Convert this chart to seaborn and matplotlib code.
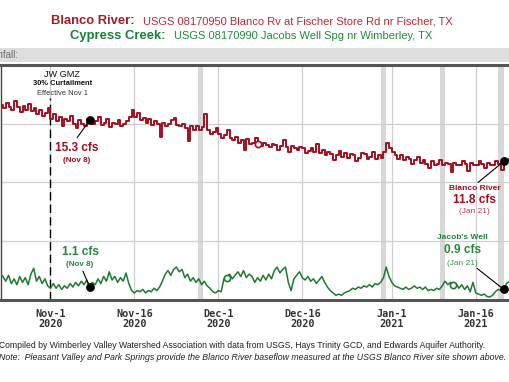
import numpy as np
import pandas as pd
import matplotlib.pyplot as plt
from matplotlib.patches import Rectangle
import seaborn as sns

# === Data (12-hour readings, starting Oct 23 2020) ===
start_date = "2020-10-23"
blanco_cfs = [
    16.6, 16.3, 16.8, 16.4, 16.2, 16.9, 16.4, 16.0, 16.5, 16.2,
    16.7, 16.1, 16.3, 15.8, 16.2, 15.7, 15.9, 16.3, 15.4, 15.8,
    15.2, 15.6, 14.8, 15.4, 15.2, 15.7, 15.0, 14.6, 15.3, 15.0,
    14.8, 15.4, 15.3, 15.0, 15.2, 15.6, 14.9, 15.1, 15.4, 14.7,
    15.1, 15.0, 15.3, 14.8, 15.0, 15.2, 15.6, 16.2, 15.6, 15.9,
    15.3, 15.5, 15.1, 15.4, 14.9, 15.2, 15.0, 13.9, 15.1, 14.8,
    15.0, 15.3, 15.5, 14.9, 14.8, 15.0, 14.6, 13.5, 14.8, 14.5,
    14.8, 14.5, 14.7, 15.8, 14.5, 14.1, 14.3, 14.6, 14.1, 13.8,
    14.0, 14.5, 13.8, 13.6, 13.9, 13.4, 13.6, 12.8, 13.7, 13.3,
    13.4, 13.8, 13.3, 13.1, 13.4, 13.2, 13.0, 13.3, 13.2, 12.8,
    13.1, 13.6, 13.0, 12.6, 13.1, 12.9, 12.8, 13.0, 12.9, 12.5,
    12.7, 12.9, 12.6, 13.3, 12.5, 12.8, 12.3, 12.6, 12.4, 11.9,
    12.3, 12.7, 12.2, 12.5, 12.1, 12.4, 12.3, 11.8, 12.1, 12.5,
    12.4, 12.0, 12.2, 12.6, 12.0, 12.3, 12.1, 12.6, 13.4, 12.9,
    12.6, 12.3, 12.0, 12.3, 11.9, 12.2, 12.0, 11.6, 11.9, 12.2,
    11.7, 11.9, 11.6, 11.2, 11.8, 11.5, 11.6, 11.9, 11.5, 11.7,
    11.6, 10.9, 11.7, 11.5, 11.5, 11.8, 11.6, 11.0, 11.7, 11.5,
    11.5, 11.8, 11.6, 11.2, 11.7, 11.5, 11.5, 11.8, 11.6, 11.1,
    11.8, 11.9, 12.0, 11.9,
]
jacobs_cfs = [
    2.3, 2.0, 1.6, 2.1, 1.4, 1.8, 1.3, 2.0, 1.5, 1.9,
    1.3, 2.2, 2.7, 1.6, 2.0, 1.4, 1.8, 1.2, 1.0, 1.4,
    1.0, 1.3, 0.9, 1.2, 1.0, 1.4, 1.1, 1.5, 1.2, 1.6,
    1.3, 1.7, 1.1, 1.5, 1.3, 1.8, 1.4, 2.0, 1.6, 2.4,
    1.7, 2.0, 1.5, 1.9, 1.6, 2.3, 1.4, 0.8, 0.6, 0.8,
    0.7, 0.9, 0.6, 0.8, 0.7, 1.0, 0.8, 1.1, 1.6, 2.2,
    2.5, 2.1, 2.6, 2.8, 2.4, 2.6, 1.9, 2.2, 1.6, 1.9,
    1.5, 1.8, 1.3, 1.6, 1.2, 1.0, 0.7, 0.6, 0.8, 0.7,
    1.8, 1.9, 2.2, 1.8, 2.1, 2.4, 2.0, 2.5, 1.9, 2.2,
    2.0, 1.5, 1.9, 1.6, 2.1, 1.7, 2.2, 1.8, 2.5, 2.8,
    2.3, 2.6, 2.8, 1.5, 0.8, 1.8, 2.1, 2.4, 1.9, 1.7,
    2.0, 1.6, 1.8, 1.4, 1.7, 2.0, 1.5, 1.1, 0.8, 0.6,
    0.4, 0.5, 0.4, 0.6, 0.7, 0.8, 1.0, 0.9, 1.1, 1.0,
    1.2, 1.1, 1.3, 1.1, 1.4, 1.3, 1.5, 1.9, 2.8, 2.0,
    1.5, 1.2, 1.1, 1.0, 0.9, 1.1, 0.9, 1.0, 1.2, 1.0,
    1.1, 0.9, 1.1, 0.8, 0.9, 0.8, 1.0, 0.9, 1.2, 1.6,
    1.3, 1.5, 1.3, 1.4, 1.0, 1.3, 0.9, 1.2, 0.7, 1.5,
    0.6, 0.5, 0.4, 0.5, 0.3, 0.25, 0.4, 0.7, 0.9, 0.8,
    0.9, 1.4, 1.6, 1.5,
]

tick_dates = ["2020-11-01", "2020-11-16", "2020-12-01", "2020-12-16", "2021-01-01", "2021-01-16"]
tick_labels = ["Nov-1\n2020", "Nov-16\n2020", "Dec-1\n2020", "Dec-16\n2020", "Jan-1\n2021", "Jan-16\n2021"]

rain_dates = ["2020-11-27 18:00", "2020-12-30 14:00", "2021-01-10 02:00", "2021-01-20 12:00"]
rain_labels = ['1.0"', '1.0"', '1.0"', '.25"']

callout_dates = ["2020-11-08 00:00", "2021-01-21 00:00"]
blanco_marks = ["2020-12-08 00:00"]
jacobs_marks = ["2020-12-02 12:00", "2021-01-12 00:00"]
gmz_date = "2020-11-01"

dates = pd.date_range(start_date, periods=len(blanco_cfs), freq="12h")
df = pd.DataFrame({"date": dates, "blanco": blanco_cfs, "jacobs": jacobs_cfs})

RED = "#a50e1e"
GREEN = "#1d7a30"

# === Style ===
sns.set_theme(style="white")
plt.rcParams["font.family"] = ["Liberation Sans", "DejaVu Sans"]

fig = plt.figure(figsize=(5.1, 3.82), dpi=100)
ax = fig.add_axes([0.001, 0.2147, 1.0, 0.6152])

# rainfall days as gray bands
for d in rain_dates:
    c = pd.Timestamp(d)
    ax.axvspan(c - pd.Timedelta(hours=11), c + pd.Timedelta(hours=11), color="#d8d8d8", lw=0, zorder=0)

sns.lineplot(data=df, x="date", y="blanco", ax=ax, color=RED, lw=1.4, drawstyle="steps-post", zorder=3)
sns.lineplot(data=df, x="date", y="jacobs", ax=ax, color=GREEN, lw=1.1, zorder=3)

# open circle markers
bm = df[df["date"].isin([pd.Timestamp(d) for d in blanco_marks])]
jm = df[df["date"].isin([pd.Timestamp(d) for d in jacobs_marks])]
ax.plot(bm["date"], bm["blanco"], "o", ms=4.5, mfc="white", mec=RED, mew=1.2, zorder=4)
ax.plot(jm["date"], jm["jacobs"], "o", ms=4.5, mfc="white", mec=GREEN, mew=1.2, zorder=4)

# callout dots
co = df[df["date"].isin([pd.Timestamp(d) for d in callout_dates])]
ax.scatter(co["date"], co["blanco"], s=28, color="black", zorder=5)
ax.scatter(co["date"], co["jacobs"], s=28, color="black", zorder=5)

# === Axes ===
ax.set_xlim(pd.Timestamp("2020-10-23 01:40"), pd.Timestamp("2021-01-22 05:00"))
ax.set_ylim(0, 20)
ax.set_yticks([5, 10, 15])
ax.set_xticks([pd.Timestamp(d) for d in tick_dates])
ax.set_xticklabels(tick_labels, fontfamily="DejaVu Sans Mono", fontweight="bold",
                   fontsize=7.3, color="#333333", linespacing=1.05)
ax.tick_params(axis="x", length=0, pad=6.5)
ax.tick_params(axis="y", left=False, labelleft=False)
ax.grid(True, color="#cfcfcf", lw=0.9)
ax.set_xlabel("")
ax.set_ylabel("")
ax.spines["right"].set_visible(False)
ax.spines["top"].set_color("#555555")
ax.spines["top"].set_linewidth(2.2)
ax.spines["bottom"].set_color("#555555")
ax.spines["bottom"].set_linewidth(2.2)
ax.spines["left"].set_color("#444444")
ax.spines["left"].set_linewidth(1.0)

# === GMZ marker ===
g = pd.Timestamp(gmz_date)
ax.vlines(g, 0, 17.2, colors="black", linestyles=(0, (6, 3)), lw=1.0, zorder=2)
gx = g + pd.Timedelta(hours=50)
ax.text(gx, 19.2, "JW GMZ", ha="center", va="center", fontsize=6.6, color="#111111")
ax.text(gx, 18.4, "30% Curtailment", ha="center", va="center", fontsize=5.4, fontweight="bold", color="#111111")
ax.text(gx, 17.6, "Effective Nov 1", ha="center", va="center", fontsize=5.4, color="#333333")

# === Callouts ===
line_kw = dict(arrowstyle="-", lw=0.8, color="black", shrinkA=0, shrinkB=2)
t = pd.Timestamp
ax.text(t("2020-11-05 18:00"), 12.9, "15.3 cfs", ha="center", va="center", fontsize=8.6, fontweight="bold", color=RED)
ax.text(t("2020-11-05 18:00"), 11.9, "(Nov 8)", ha="center", va="center", fontsize=5.8, fontweight="bold", color=RED)
ax.annotate("", xy=(co["date"].iloc[0], co["blanco"].iloc[0]), xytext=(t("2020-11-05 18:00"), 13.8), arrowprops=line_kw)

ax.text(t("2021-01-15 19:00"), 9.5, "Blanco River", ha="center", va="center", fontsize=6.0, fontweight="bold", color=RED)
ax.text(t("2021-01-15 19:00"), 8.5, "11.8 cfs", ha="center", va="center", fontsize=8.6, fontweight="bold", color=RED)
ax.text(t("2021-01-15 19:00"), 7.5, "(Jan 21)", ha="center", va="center", fontsize=6.0, color="#b83a40")
ax.annotate("", xy=(co["date"].iloc[1], co["blanco"].iloc[1]), xytext=(t("2021-01-16 10:00"), 10.0), arrowprops=line_kw)

ax.text(t("2020-11-06 07:00"), 4.07, "1.1 cfs", ha="center", va="center", fontsize=8.6, fontweight="bold", color="#23883c")
ax.text(t("2020-11-06 07:00"), 3.05, "(Nov 8)", ha="center", va="center", fontsize=5.8, fontweight="bold", color="#23883c")
ax.annotate("", xy=(co["date"].iloc[0], co["jacobs"].iloc[0]), xytext=(t("2020-11-06 19:00"), 2.46), arrowprops=line_kw)

ax.text(t("2021-01-13 16:00"), 5.3, "Jacob's Well", ha="center", va="center", fontsize=6.0, fontweight="bold", color="#23883c")
ax.text(t("2021-01-13 16:00"), 4.24, "0.9 cfs", ha="center", va="center", fontsize=8.6, fontweight="bold", color="#23883c")
ax.text(t("2021-01-13 16:00"), 3.14, "(Jan 21)", ha="center", va="center", fontsize=6.0, color="#3a9a50")
ax.annotate("", xy=(co["date"].iloc[1], co["jacobs"].iloc[1]), xytext=(t("2021-01-16 05:00"), 2.7), arrowprops=line_kw)

# === Rainfall strip ===
W, H = 510.0, 382.0
fig.patches.append(Rectangle((0, 1 - 62 / H), 1, 14 / H, transform=fig.transFigure,
                             facecolor="#dddddd", edgecolor="none", zorder=0))
fig.text(18 / W, 1 - 55 / H, "Rainfall:", ha="right", va="center", fontsize=7, color="#6e6e6e")
for d, lab in zip(rain_dates, rain_labels):
    ax.text(pd.Timestamp(d), 1.043, lab, transform=ax.get_xaxis_transform(),
            ha="center", va="center", fontsize=6.8, color="#777777")

# === Title (bold station name + regular gauge name) ===
renderer = fig.canvas.get_renderer()


def two_part_line(y_px, bold_txt, reg_txt, c_bold, c_reg, center_px=252, gap=9):
    t1 = fig.text(0, 1 - y_px / H, bold_txt, fontsize=9.4, fontweight="bold", color=c_bold, va="center")
    t2 = fig.text(0, 1 - y_px / H, reg_txt, fontsize=8.0, color=c_reg, va="center")
    w1 = t1.get_window_extent(renderer).width
    w2 = t2.get_window_extent(renderer).width
    x0 = center_px - (w1 + gap + w2) / 2
    t1.set_x(x0 / W)
    t2.set_x((x0 + w1 + gap) / W)


two_part_line(21, "Blanco River:", "USGS 08170950 Blanco Rv at Fischer Store Rd nr Fischer, TX", "#a31d25", "#bb2a33")
two_part_line(36, "Cypress Creek:", "USGS 08170990 Jacobs Well Spg nr Wimberley, TX", "#17803a", "#24893f", center_px=251)

# === Footnotes ===
fig.text(-1 / W, 1 - 345 / H,
         "Compiled by Wimberley Valley Watershed Association with data from USGS, Hays Trinity GCD, and Edwards Aquifer Authority.",
         ha="left", va="center", fontsize=6.25, color="#222222")
fig.text(-1 / W, 1 - 357 / H,
         "Note:  Pleasant Valley and Park Springs provide the Blanco River baseflow measured at the USGS Blanco River site shown above.",
         ha="left", va="center", fontsize=6.3, style="italic", color="#222222")

fig.savefig("out.png", dpi=100)
plt.close(fig)
